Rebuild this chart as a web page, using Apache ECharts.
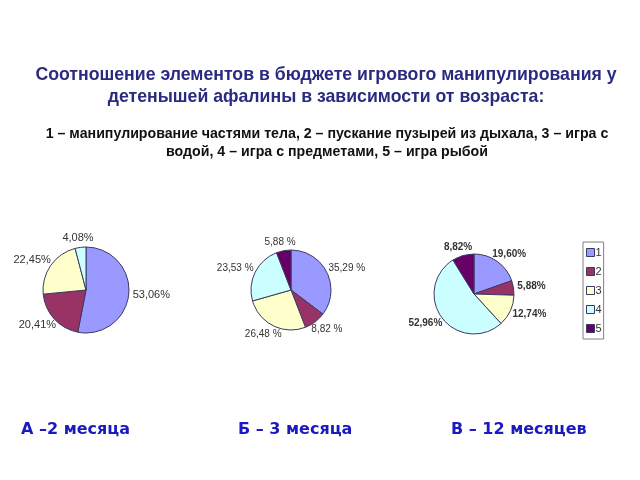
<!DOCTYPE html>
<html><head><meta charset="utf-8">
<script src="https://cdn.jsdelivr.net/npm/echarts@6/dist/echarts.min.js"></script>
<style>html,body{margin:0;padding:0;background:#fff}#c{width:640px;height:480px}</style>
</head><body><div id="c"></div>
<script>
const categories = ['1', '2', '3', '4', '5'];
const valuesA = [53.06, 20.41, 22.45, 4.08];
const valuesB = [35.29, 8.82, 26.48, 23.53, 5.88];
const valuesC = [19.60, 5.88, 12.74, 52.96, 8.82];
const pieTitles = ['А –2 месяца', 'Б – 3 месяца', 'В – 12 месяцев'];
const colors = ['#9999FF', '#993366', '#FFFFCC', '#CCFFFF', '#660066'];

function mk(vals) { return vals.map((v, i) => ({ name: categories[i], value: v })); }

// Excel-like placement: label pushed radially outward from its slice edge
function excelLabel(params) {
  const pts = params.labelLinePoints;
  if (!pts || pts.length < 2) return {};
  const a = pts[0], b = pts[1];
  let dx = b[0] - a[0], dy = b[1] - a[1];
  const L = Math.hypot(dx, dy) || 1; dx /= L; dy /= L;
  const w = params.labelRect.width, h = params.labelRect.height, g = 4;
  return { x: a[0] + dx * g + dx * w / 2, y: a[1] + dy * g + dy * h / 2,
           align: 'center', verticalAlign: 'middle', hideOverlap: false };
}

function pie(vals, center, r, font, sep) {
  return {
    type: 'pie', center: center, radius: r, startAngle: 90, clockwise: true,
    data: mk(vals), animation: false, silent: true,
    itemStyle: { borderColor: '#3a3a60', borderWidth: 1 },
    label: { show: true, position: 'outside', overflow: 'none',
      formatter: p => p.value.toFixed(2).replace('.', ',') + sep + '%',
      color: '#333', fontSize: font.size,
      fontFamily: 'Liberation Sans, Arial', fontWeight: font.weight },
    labelLine: { show: false, length: 6, length2: 1 },
    labelLayout: excelLabel,
    emphasis: { disabled: true }
  };
}

const chart = echarts.init(document.getElementById('c'));
chart.setOption({
  color: colors,
  animation: false,
  title: [
    { text: 'Соотношение элементов в бюджете игрового манипулирования у\nдетенышей афалины в зависимости от возраста:',
      left: 321, top: 59, textAlign: 'center',
      textStyle: { color: '#2a2a80', fontSize: 17.7, fontWeight: 'bold', fontFamily: 'Liberation Sans, Arial', lineHeight: 22, align: 'center' } },
    { text: '1 – манипулирование частями тела, 2 – пускание пузырей из дыхала, 3 – игра с\nводой, 4 – игра с предметами, 5 – игра рыбой',
      left: 322, top: 120, textAlign: 'center',
      textStyle: { color: '#111', fontSize: 14.2, fontWeight: 'bold', fontFamily: 'Liberation Sans, Arial', lineHeight: 18, align: 'center' } },
    { text: pieTitles[0], left: 16, top: 417,
      textStyle: { color: '#1a1ac0', fontSize: 16, fontWeight: 'bold', fontFamily: 'DejaVu Sans' } },
    { text: pieTitles[1], left: 233, top: 417,
      textStyle: { color: '#1a1ac0', fontSize: 16, fontWeight: 'bold', fontFamily: 'DejaVu Sans' } },
    { text: pieTitles[2], left: 446, top: 417,
      textStyle: { color: '#1a1ac0', fontSize: 16, fontWeight: 'bold', fontFamily: 'DejaVu Sans' } }
  ],
  legend: {
    data: categories, orient: 'vertical', left: 583, top: 242,
    itemWidth: 8, itemHeight: 8, itemGap: 8, padding: [5, 2, 5, 3],
    borderColor: '#808080', borderWidth: 1, selectedMode: false,
    icon: 'rect',
    itemStyle: { borderColor: '#3a3a60', borderWidth: 1 },
    textStyle: { fontSize: 11, lineHeight: 11, color: '#333', fontFamily: 'Liberation Sans, Arial', padding: [0, 0, 0, -4] }
  },
  series: [
    pie(valuesA, [86, 290], 43, { size: 11, weight: 'normal' }, ''),
    pie(valuesB, [291, 290], 40, { size: 10, weight: 'normal' }, ' '),
    pie(valuesC, [474, 294], 40, { size: 10, weight: 'bold' }, '')
  ]
});
</script></body></html>
